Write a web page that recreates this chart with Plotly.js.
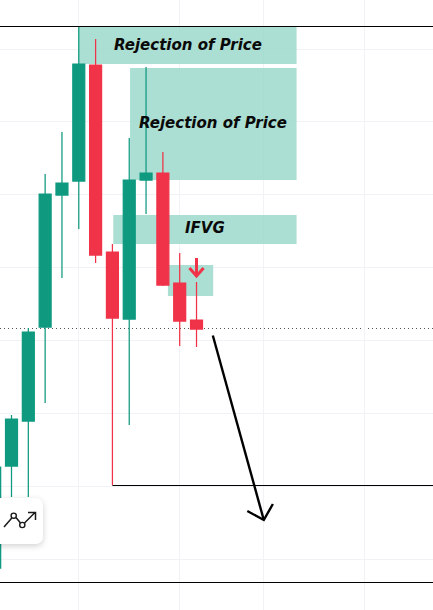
<!DOCTYPE html>
<html><head><meta charset="utf-8">
<script src="https://cdn.plot.ly/plotly-3.0.1.min.js"></script>
<style>html,body{margin:0;padding:0;background:#fff;overflow:hidden}
#c{width:433px;height:610px;position:relative}
#card{position:absolute;left:-12px;top:498px;width:55px;height:46px;background:#fff;border-radius:7px;box-shadow:0 2px 6px rgba(0,0,0,.18)}
#card svg{position:absolute;left:12px;top:0}
</style></head><body>
<div id="c"><div id="p" style="width:433px;height:610px"></div>
<div id="card"><svg width="43" height="46" viewBox="0 0 43 46"><path d="M4 29 L11.8 20 M16 19.5 L20.5 25 M24.5 25 L35 14.5 M28 14.5 L35.5 14.5 L35.5 22" fill="none" stroke="#1a1a1a" stroke-width="1.5"/><circle cx="13.7" cy="17.7" r="2.6" fill="#fff" stroke="#1a1a1a" stroke-width="1.4"/><circle cx="22.3" cy="27" r="2.6" fill="#fff" stroke="#1a1a1a" stroke-width="1.4"/></svg></div></div>
<script>
const candleIndex=[0,1,2,3,4,5,6,7,8,9,10,11,12];
const openPrice=[42,144,189,283,415,429,545,358,291,430,437,327,290];
const highPrice=[143,195,282,436,478,583,571,366,472,543,458,357,328];
const lowPrice=[42,113,113,207,332,381,347,125,185,396,324,264,263];
const closePrice=[143,191,278,416,427,546,355,292,430,437,325,289,281];
const gridX=[5,11,16,22];
const gridY=[51,124,197,270,343,416,489,561];
const zoneLeft=[4.98,8.05,7.05,10.3];
const zoneRight=[17.95,17.95,17.95,12.99];
const zoneHigh=[583,542,395,345];
const zoneLow=[546,430,366,314];
const zoneLabels=['Rejection of Price','Rejection of Price','IFVG'];
const labelX=[11.5,13.0,12.48];
const labelY=[565,487,382];
const levelPrice=[583.5,27.5];
const supportX=[7,26.1];
const supportPrice=[124.5,124.5];
const lastPrice=281.5;
const trendX=[12.97,16];
const trendPrice=[274.5,90];
const trendHeadX=[15.02,16,16.54];
const trendHeadPrice=[99,90,106];
const signalX=[12,12];
const signalPrice=[352,334];
const signalHeadX=[11.58,12,12.42];
const signalHeadPrice=[342,334,342];

const green='#0f9a80',red='#f03348',zone='rgba(150,215,200,0.8)';
const shapes=zoneLeft.map((l,i)=>({type:'rect',layer:'between',x0:l,x1:zoneRight[i],y0:zoneLow[i],y1:zoneHigh[i],fillcolor:zone,line:{width:0}}));
levelPrice.forEach(p=>shapes.push({type:'line',xref:'paper',x0:0,x1:1,y0:p,y1:p,line:{color:'#000',width:1}}));
shapes.push({type:'line',xref:'paper',x0:0,x1:1,y0:lastPrice,y1:lastPrice,layer:'between',line:{color:'#555',width:1,dash:'1px 3px'}});

const line=(x,y,c,w)=>({type:'scatter',mode:'lines',x,y,hoverinfo:'skip',showlegend:false,line:{color:c,width:w}});
const traces=[
 {type:'candlestick',x:candleIndex,open:openPrice,high:highPrice,low:lowPrice,close:closePrice,
  increasing:{line:{color:green,width:1.25},fillcolor:green},
  decreasing:{line:{color:red,width:1.25},fillcolor:red},whiskerwidth:0,showlegend:false,hoverinfo:'skip'},
 line(supportX,supportPrice,'#000',1),
 line(trendX,trendPrice,'#000',2.4),
 line(trendHeadX,trendHeadPrice,'#000',2.4),
 line(signalX,signalPrice,red,3),
 line(signalHeadX,signalHeadPrice,red,3)
];
const font={family:'"DejaVu Sans"',size:15,color:'#0a0a0a'};
const annotations=zoneLabels.map((t,i)=>({x:labelX[i],y:labelY[i],text:'<b><i>'+t+'</i></b>',showarrow:false,font,xanchor:'center',yanchor:'middle'}));
Plotly.newPlot('p',traces,{
 width:433,height:610,margin:{l:0,r:0,t:0,b:0},paper_bgcolor:'#fff',plot_bgcolor:'#fff',showlegend:false,boxgap:0.29,boxgroupgap:0,
 xaxis:{range:[0.316,26.06],tickmode:'array',tickvals:gridX,showticklabels:false,ticks:'',gridcolor:'#f0f2f6',gridwidth:1,zeroline:false,showline:false,rangeslider:{visible:false},fixedrange:true},
 yaxis:{range:[0,610],tickmode:'array',tickvals:gridY,showticklabels:false,ticks:'',gridcolor:'#f0f2f6',gridwidth:1,zeroline:false,showline:false,fixedrange:true},
 shapes,annotations
},{staticPlot:true,displayModeBar:false});
</script></body></html>
